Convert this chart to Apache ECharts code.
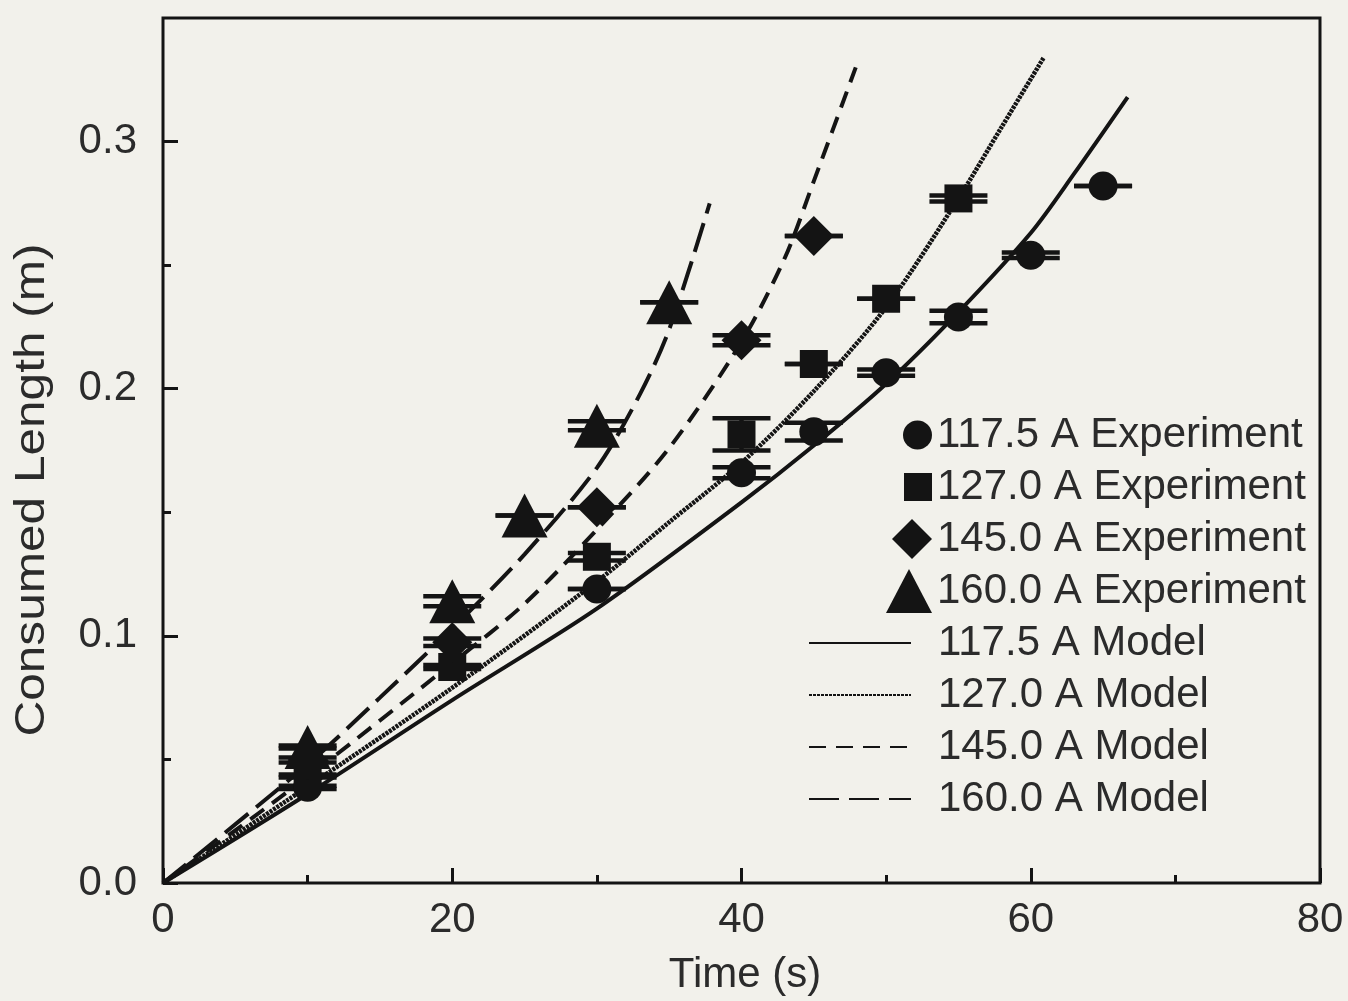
<!DOCTYPE html>
<html>
<head>
<meta charset="utf-8">
<script src="https://cdn.jsdelivr.net/npm/echarts@6/dist/echarts.min.js"></script>
<style>
html, body { margin: 0; padding: 0; background: #f2f1eb; }
#main { width: 1348px; height: 1001px; }
</style>
</head>
<body>
<div id="main"></div>
<script>
// experiments: time (s), consumed length (m), half height of error bar (m)
const t1175 = [10, 30, 40, 45, 50, 55, 60, 65]
const v1175 = [0.0387, 0.119, 0.166, 0.1826, 0.2065, 0.229, 0.254, 0.282]
const e1175 = [0.0007, 0, 0.0022, 0.0036, 0.0013, 0.0025, 0.0011, 0]

const t1270 = [10, 20, 30, 40, 45, 50, 55]
const v1270 = [0.0433, 0.0874, 0.132, 0.1815, 0.210, 0.2364, 0.277]
const e1270 = [0.0006, 0.0008, 0.0015, 0.0065, 0, 0, 0.0012]

const t1450 = [10, 20, 30, 40, 45]
const v1450 = [0.0498, 0.0974, 0.152, 0.2196, 0.2618]
const e1450 = [0.001, 0.0015, 0, 0.002, 0]

const t1600 = [10, 20, 25, 30, 35]
const v1600 = [0.055, 0.114, 0.1487, 0.185, 0.235]
const e1600 = [0.0006, 0.002, 0, 0.0018, 0]

// model curves
const mt1175 = [0, 10, 20, 30, 40, 45, 50, 55, 60, 63, 66.7]
const mv1175 = [0, 0.036, 0.074, 0.111, 0.154, 0.177, 0.202, 0.231, 0.263, 0.287, 0.318]

const mt1270 = [0, 10, 20, 30, 35, 40, 45, 50, 55, 58, 60.9]
const mv1270 = [0, 0.039, 0.079, 0.122, 0.146, 0.170, 0.199, 0.233, 0.277, 0.306, 0.334]

const mt1450 = [0, 10, 20, 25, 30, 35, 40, 43, 45, 47.9]
const mv1450 = [0, 0.043, 0.089, 0.113, 0.143, 0.176, 0.219, 0.253, 0.284, 0.33]

const mt1600 = [0, 10, 15, 20, 25, 30, 33, 35, 37.8]
const mv1600 = [0, 0.048, 0.075, 0.103, 0.133, 0.168, 0.198, 0.224, 0.275]

// axis ticks
const xMajor = [0, 20, 40, 60, 80]
const xMinor = [10, 30, 50, 70]
const yMajor = [0, 0.1, 0.2, 0.3]
const yMinor = [0.05, 0.15, 0.25]

const expNames = ['117.5 A Experiment', '127.0 A Experiment', '145.0 A Experiment', '160.0 A Experiment']
const modelNames = ['117.5 A Model', '127.0 A Model', '145.0 A Model', '160.0 A Model']

const INK = '#141414'
const TXT = '#2b2b2b'
const FONT = 'Liberation Sans'

// marker shapes and sizes [w, h]
const expSymbols = ['circle', 'rect', 'diamond', 'triangle']
const expSizes = [[29, 29], [28, 28], [40, 40], [46, 44]]
const expRows = [433, 485, 537, 589]

function pairs (xs, ys) {
  return xs.map((x, i) => [x, ys[i]])
}
function triples (xs, ys, es) {
  return xs.map((x, i) => [x, ys[i], es[i]])
}

// vertical error bar with wide caps
function renderErr (params, api) {
  const x = api.value(0)
  const y = api.value(1)
  const e = api.value(2)
  const hi = api.coord([x, y + e])
  const lo = api.coord([x, y - e])
  const w = 29
  const st = { stroke: INK, lineWidth: 4.5 }
  return {
    type: 'group',
    children: [
      { type: 'line', shape: { x1: hi[0], y1: hi[1], x2: lo[0], y2: lo[1] }, style: st },
      { type: 'line', shape: { x1: hi[0] - w, y1: hi[1], x2: hi[0] + w, y2: hi[1] }, style: st },
      { type: 'line', shape: { x1: lo[0] - w, y1: lo[1], x2: lo[0] + w, y2: lo[1] }, style: st }
    ]
  }
}

function modelLine (name, xs, ys, type, width) {
  return {
    name: name,
    type: 'line',
    data: pairs(xs, ys),
    smooth: 0.3,
    showSymbol: false,
    symbol: 'none',
    clip: true,
    lineStyle: { color: INK, width: width, type: type },
    itemStyle: { color: INK },
    z: 2
  }
}

function errSeries (name, xs, ys, es) {
  return {
    name: name,
    type: 'custom',
    renderItem: renderErr,
    data: triples(xs, ys, es),
    z: 3
  }
}

function expSeries (k, xs, ys) {
  return {
    name: expNames[k],
    type: 'scatter',
    data: pairs(xs, ys),
    symbol: expSymbols[k],
    symbolSize: expSizes[k],
    itemStyle: { color: INK, opacity: 1 },
    z: 4
  }
}

const legendText = { fontFamily: FONT, fontSize: 42, color: TXT, lineHeight: 52 }

// one legend per experiment so every marker keeps its own size
const expLegends = expNames.map((name, k) => ({
  orient: 'vertical',
  left: 927 - expSizes[k][0],
  top: expRows[k] - 29,
  itemWidth: expSizes[k][0],
  itemHeight: expSizes[k][1],
  data: [name],
  selectedMode: false,
  textStyle: legendText
}))

const chart = echarts.init(document.getElementById('main'))

const tickLabel = { fontFamily: FONT, fontSize: 42, color: TXT }

const option = {
  backgroundColor: '#f2f1eb',
  animation: false,
  grid: {
    left: 163, right: 28, top: 18, bottom: 118,
    show: true, borderColor: INK, borderWidth: 3
  },
  xAxis: [
    {
      type: 'value', min: 0, max: 80, interval: 20,
      axisLine: { show: false },
      splitLine: { show: false },
      axisTick: { inside: true, length: 15, customValues: xMajor, lineStyle: { color: INK, width: 3 } },
      axisLabel: Object.assign({ margin: 16, customValues: xMajor }, tickLabel)
    },
    {
      type: 'value', min: 0, max: 80, interval: 10, position: 'bottom',
      axisLine: { show: false },
      splitLine: { show: false },
      axisTick: { inside: true, length: 8, customValues: xMinor, lineStyle: { color: INK, width: 3 } },
      axisLabel: { show: false }
    }
  ],
  yAxis: [
    {
      type: 'value', min: 0, max: 0.35, interval: 0.05,
      axisLine: { show: false },
      splitLine: { show: false },
      axisTick: { inside: true, length: 15, customValues: yMajor, lineStyle: { color: INK, width: 3 } },
      axisLabel: Object.assign({
        margin: 26,
        customValues: yMajor,
        formatter: function (v) { return v.toFixed(1) }
      }, tickLabel)
    },
    {
      type: 'value', min: 0, max: 0.35, interval: 0.05, position: 'left',
      axisLine: { show: false },
      splitLine: { show: false },
      axisTick: { inside: true, length: 8, customValues: yMinor, lineStyle: { color: INK, width: 3 } },
      axisLabel: { show: false }
    }
  ],
  legend: expLegends.concat([
    {
      orient: 'vertical',
      left: 803,
      top: 612,
      itemWidth: 102,
      itemHeight: 20,
      itemGap: 0,
      data: modelNames,
      selectedMode: false,
      itemStyle: { opacity: 0 },
      textStyle: Object.assign({ padding: [0, 0, 0, 22] }, legendText)
    }
  ]),
  graphic: [
    {
      type: 'text',
      x: 745,
      y: 975,
      style: { text: 'Time (s)', font: '42px "Liberation Sans"', fill: TXT, textAlign: 'center', textVerticalAlign: 'middle' }
    },
    {
      type: 'text',
      x: 32,
      y: 490,
      rotation: Math.PI / 2,
      scaleX: 1.18,
      style: { text: 'Consumed Length (m)', font: '42px "Liberation Sans"', fill: TXT, textAlign: 'center', textVerticalAlign: 'middle' }
    }
  ],
  series: [
    modelLine(modelNames[0], mt1175, mv1175, 'solid', 4),
    modelLine(modelNames[1], mt1270, mv1270, [3, 1], 4.5),
    modelLine(modelNames[2], mt1450, mv1450, [17, 10], 4),
    modelLine(modelNames[3], mt1600, mv1600, [30, 10], 4),
    errSeries('err 117.5', t1175, v1175, e1175),
    errSeries('err 127.0', t1270, v1270, e1270),
    errSeries('err 145.0', t1450, v1450, e1450),
    errSeries('err 160.0', t1600, v1600, e1600),
    expSeries(0, t1175, v1175),
    expSeries(1, t1270, v1270),
    expSeries(2, t1450, v1450),
    expSeries(3, t1600, v1600)
  ]
}

chart.setOption(option)
</script>
</body>
</html>
